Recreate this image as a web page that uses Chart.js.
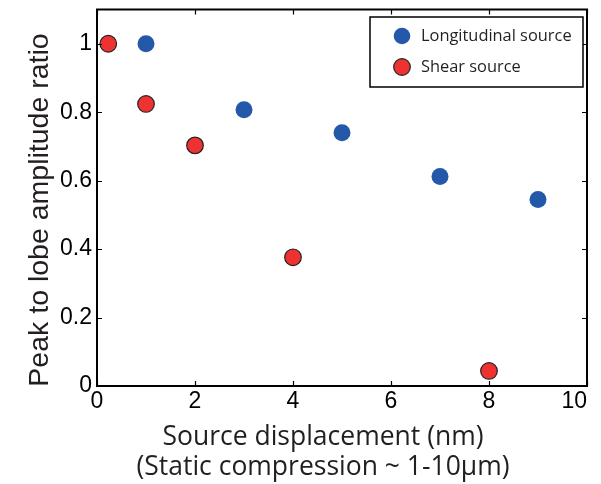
<!DOCTYPE html>
<html><head><meta charset="utf-8">
<script src="https://cdn.jsdelivr.net/npm/chart.js@4.4.1/dist/chart.umd.min.js"></script>
<style>html,body{margin:0;padding:0;background:#fff}canvas{display:block}</style>
</head><body>
<canvas id="c" width="601" height="484"></canvas>
<script>
const seriesNames = ['Longitudinal source', 'Shear source'];
const longX = [1, 3, 5, 7, 9];
const longY = [1.0, 0.807, 0.74, 0.612, 0.545];
const shearX = [0.23, 1, 2, 4, 8];
const shearY = [1.0, 0.824, 0.703, 0.376, 0.044];
const xTicks = [0, 2, 4, 6, 8, 10];
const yTicks = [0, 0.2, 0.4, 0.6, 0.8, 1];
const xTitle = ['Source displacement (nm)', '(Static compression ~ 1-10μm)'];
const yTitle = 'Peak to lobe amplitude ratio';

const toPts = (xs, ys) => xs.map((x, i) => ({x, y: ys[i]}));
const BLUE = '#2458a8', RED = '#ee3232';
const fmt = v => String(Number(v.toFixed(2)));

const frame = {
  id: 'frame',
  afterDraw(chart) {
    const {ctx, chartArea: a, scales} = chart;
    ctx.save();
    ctx.strokeStyle = '#000'; ctx.lineWidth = 2;
    ctx.strokeRect(a.left, a.top, a.right - a.left, a.bottom - a.top);
    ctx.lineWidth = 1.2;
    const L = 5;
    ctx.fillStyle = '#000';
    ctx.font = '23px "Liberation Sans"';
    xTicks.forEach((v, i) => {
      const px = scales.x.getPixelForValue(v);
      const p = Math.round(px) + 0.5;
      ctx.beginPath(); ctx.moveTo(p, a.bottom); ctx.lineTo(p, a.bottom - L);
      ctx.moveTo(p, a.top); ctx.lineTo(p, a.top + L); ctx.stroke();
      ctx.textBaseline = 'top';
      if (i === xTicks.length - 1) { ctx.textAlign = 'right'; ctx.fillText(fmt(v), px, a.bottom + 4); }
      else { ctx.textAlign = 'center'; ctx.fillText(fmt(v), px, a.bottom + 4); }
    });
    yTicks.forEach(v => {
      const py = scales.y.getPixelForValue(v);
      const p = Math.round(py) + 0.5;
      ctx.beginPath(); ctx.moveTo(a.left, p); ctx.lineTo(a.left + L, p);
      ctx.moveTo(a.right, p); ctx.lineTo(a.right - L, p); ctx.stroke();
      ctx.textAlign = 'right'; ctx.textBaseline = 'middle';
      ctx.fillText(fmt(v), a.left - 5, py);
    });
    // legend
    const bx = 370, by = 17, bw = 213, bh = 70;
    ctx.fillStyle = '#fff'; ctx.fillRect(bx, by, bw, bh);
    ctx.lineWidth = 1.5; ctx.strokeStyle = '#000';
    ctx.strokeRect(bx, by, bw, bh);
    ctx.font = '16.4px "Open Sans"';
    ctx.textBaseline = 'middle'; ctx.textAlign = 'left';
    chart.data.datasets.forEach((ds, i) => {
      const cy = 36 + i * 31;
      ctx.beginPath(); ctx.arc(402, cy, 8.3, 0, Math.PI * 2);
      ctx.fillStyle = ds.backgroundColor; ctx.fill();
      if (ds.borderWidth) { ctx.lineWidth = ds.borderWidth; ctx.strokeStyle = ds.borderColor; ctx.stroke(); }
      ctx.fillStyle = '#231f20';
      ctx.fillText(ds.label, 421, cy);
    });
    // axis titles
    ctx.fillStyle = '#231f20';
    ctx.textAlign = 'center';
    ctx.font = '26.5px "Open Sans"';
    ctx.fillText(xTitle[0], 323, 437);
    ctx.fillText(xTitle[1], 323, 467);
    ctx.save();
    ctx.translate(40, 210); ctx.rotate(-Math.PI / 2);
    ctx.font = '28.5px "Liberation Sans"';
    ctx.fillText(yTitle, 0, 0);
    ctx.restore();
    ctx.restore();
  }
};

new Chart(document.getElementById('c'), {
  type: 'scatter',
  data: {
    datasets: [
      {label: seriesNames[0], data: toPts(longX, longY), backgroundColor: BLUE, borderColor: BLUE, borderWidth: 0, pointRadius: 8.5},
      {label: seriesNames[1], data: toPts(shearX, shearY), backgroundColor: RED, borderColor: '#222', borderWidth: 1.2, pointRadius: 8.3}
    ]
  },
  options: {
    responsive: false, animation: false, devicePixelRatio: 1,
    layout: {padding: {top: 8, right: 14, left: 0, bottom: 0}},
    plugins: {legend: {display: false}, tooltip: {enabled: false}},
    scales: {
      x: {
        type: 'linear', min: 0, max: 10,
        afterBuildTicks: s => { s.ticks = xTicks.map(v => ({value: v})); },
        afterFit: s => { s.height = 98; },
        grid: {display: false, drawTicks: false},
        border: {display: false},
        ticks: {display: false}
      },
      y: {
        type: 'linear', min: 0, max: 1.1,
        afterBuildTicks: s => { s.ticks = yTicks.map(v => ({value: v})); },
        afterFit: s => { s.width = 97; },
        grid: {display: false, drawTicks: false},
        border: {display: false},
        ticks: {display: false}
      }
    }
  },
  plugins: [frame]
});
</script>
</body></html>
